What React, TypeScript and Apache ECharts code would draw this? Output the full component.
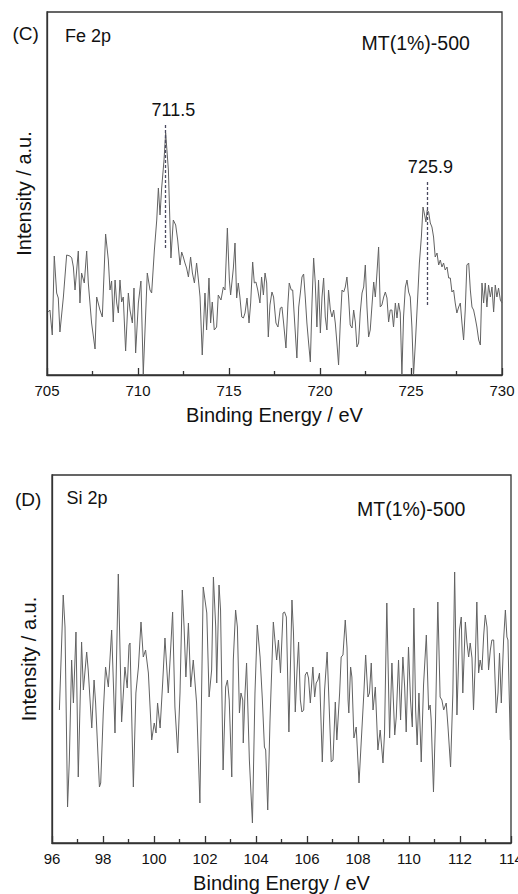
import React, { useEffect, useRef } from "react";
import * as echarts from "echarts";

const FONT = '"Liberation Sans", Arial, sans-serif';

// Panel C: Fe 2p
const feEnergy = [
  705.07, 705.16, 705.29, 705.40, 705.53, 705.62, 705.71, 705.90, 706.08, 706.26,
  706.36, 706.45, 706.54, 706.72, 706.81, 706.90, 707.05, 707.18, 707.27, 707.45,
  707.64, 707.73, 707.91, 708.04, 708.22, 708.37, 708.46, 708.55, 708.64, 708.74,
  708.83, 708.92, 709.01, 709.10, 709.19, 709.32, 709.47, 709.56, 709.69, 709.78,
  709.87, 710.02, 710.16, 710.29, 710.51, 710.66, 710.75, 710.90, 711.03, 711.12,
  711.21, 711.30, 711.43, 711.52, 711.67, 711.81, 711.94, 712.07, 712.18, 712.31,
  712.40, 712.49, 712.58, 712.67, 712.77, 712.89, 712.99, 713.10, 713.22, 713.32,
  713.41, 713.53, 713.68, 713.77, 713.90, 713.99, 714.08, 714.19, 714.32, 714.41,
  714.56, 714.69, 714.78, 714.91, 715.02, 715.09, 715.24, 715.33, 715.42, 715.51,
  715.60, 715.70, 715.79, 715.88, 715.99, 716.10, 716.19, 716.30, 716.39, 716.48,
  716.58, 716.70, 716.79, 716.89, 716.98, 717.07, 717.16, 717.25,
  717.36, 717.45, 717.58, 717.69, 717.82, 717.91, 718.00, 718.13, 718.24, 718.31,
  718.42, 718.50, 718.61, 718.73, 718.83, 718.92, 719.01, 719.10, 719.19, 719.28,
  719.37, 719.47, 719.56, 719.65, 719.74, 719.83, 719.92, 720.02, 720.11, 720.20,
  720.29, 720.38, 720.47, 720.57, 720.66, 720.75, 720.84, 720.93, 721.02, 721.11,
  721.21, 721.30, 721.39, 721.48, 721.57, 721.66, 721.76, 721.85, 721.94, 722.03,
  722.12, 722.21, 722.31, 722.40, 722.49, 722.58, 722.67, 722.76, 722.85, 722.95,
  723.04, 723.13, 723.22, 723.31, 723.40, 723.50, 723.59, 723.68, 723.77, 723.86,
  723.95, 724.04, 724.14, 724.23, 724.32, 724.41, 724.50, 724.59, 724.69, 724.78,
  724.87, 724.96, 725.05, 725.14, 725.24, 725.36, 725.46, 725.57, 725.66, 725.75,
  725.82, 725.89, 725.97, 726.06, 726.15, 726.24, 726.33, 726.43, 726.52, 726.61,
  726.70, 726.79, 726.88, 726.98, 727.07, 727.16, 727.25, 727.34, 727.43, 727.52,
  727.62, 727.71, 727.80, 727.89, 727.98, 728.07, 728.17, 728.26, 728.35, 728.44,
  728.53, 728.62, 728.72, 728.81, 728.90, 728.99, 729.08, 729.17, 729.26, 729.36,
  729.45, 729.54, 729.63, 729.72, 729.81, 729.91, 730.00,
];
const feIntensity = [
  63, 65, 40, 119, 82, 77, 43, 78, 120, 119,
  117, 108, 85, 124, 72, 102, 92, 124, 92, 52,
  26, 78, 65, 58, 141, 115, 85, 94, 53, 95,
  72, 62, 95, 73, 78, 24, 82, 65, 52, 87,
  22, 72, 94, 1, 102, 85, 82, 125, 155, 187,
  160, 187, 215, 242, 205, 117, 155, 150, 135, 110,
  123, 118, 112, 107, 98, 118, 102, 92, 112, 95,
  78, 20, 82, 45, 97, 52, 73, 45, 48, 80,
  75, 88, 85, 147, 95, 80, 107, 132, 77, 92,
  78, 58, 57, 62, 77, 52, 72, 113, 92, 93,
  85, 72, 98, 80, 102, 92, 38, 70,
  83, 78, 52, 48, 67, 68, 52, 27, 72, 92,
  85, 85, 52, 17, 68, 82, 98, 101, 78, 52,
  33, 13, 72, 117, 92, 48, 95, 42, 78, 97,
  58, 45, 85, 65, 58, 65, 52, 32, 10, 50,
  85, 83, 88, 98, 78, 50, 47, 65, 53, 28,
  32, 62, 82, 88, 110, 68, 38, 45, 68, 93,
  78, 102, 128, 68, 70, 78, 83, 77, 53, 65,
  65, 48, 72, 57, 72, 62, 0, 58, 88, 95,
  83, 78, 48, 0, 32, 75, 112, 138, 168, 160,
  153, 165, 163, 152, 148, 138, 118, 122, 110, 115,
  108, 112, 105, 108, 97, 97, 83, 85, 72, 62,
  68, 72, 52, 35, 65, 110, 112, 85, 68, 65,
  57, 48, 35, 30, 92, 72, 92, 68, 90, 78,
  88, 63, 90, 78, 87, 75, 72,
];
const fePeakEnergy = [711.5, 725.9];
const fePeakLineTop = [250, 193];
const fePeakLineBottom = [127, 70];

// Panel D: Si 2p
const siEnergy = [
  96.29, 96.44, 96.51, 96.61, 96.68, 96.77, 96.84, 96.94, 97.03, 97.16,
  97.23, 97.36, 97.42, 97.56, 97.65, 97.71, 97.86, 97.91, 98.01, 98.10,
  98.21, 98.34, 98.47, 98.60, 98.73, 98.86, 98.95, 99.02, 99.06, 99.19,
  99.29, 99.39, 99.49, 99.58, 99.67, 99.78, 99.91, 100.01, 100.08, 100.14,
  100.24, 100.34, 100.43, 100.56, 100.63, 100.73, 100.82, 100.93, 101.02, 101.11,
  101.18, 101.25, 101.35, 101.44, 101.54, 101.67, 101.80, 101.93, 102.07, 102.16,
  102.26, 102.33, 102.42, 102.46, 102.55, 102.61, 102.71, 102.81, 102.88, 102.95,
  103.05, 103.11, 103.20, 103.27, 103.35, 103.41, 103.48, 103.50, 103.57, 103.63,
  103.74, 103.86, 103.96, 104.05, 104.16, 104.25, 104.33, 104.38, 104.46, 104.55,
  104.68, 104.81, 104.88, 104.96, 105.06, 105.12, 105.19, 105.29, 105.41, 105.47,
  105.54, 105.61, 105.67, 105.74, 105.80, 105.87, 105.93, 106.00, 106.06, 106.13,
  106.23, 106.30, 106.36, 106.43, 106.49, 106.60, 106.69, 106.79, 106.86, 106.95,
  107.02, 107.11, 107.17, 107.28, 107.34, 107.41, 107.50, 107.57, 107.61, 107.64,
  107.71, 107.76, 107.84, 107.93, 108.04, 108.13, 108.23, 108.30, 108.39, 108.45,
  108.52, 108.59, 108.68, 108.78, 108.87, 108.98, 109.04, 109.13, 109.24, 109.33,
  109.44, 109.50, 109.59, 109.67, 109.76, 109.83, 109.89, 109.98, 110.06, 110.13,
  110.19, 110.26, 110.32, 110.39, 110.48, 110.57, 110.68, 110.77, 110.83, 110.87,
  110.96, 111.04, 111.13, 111.22, 111.29, 111.36, 111.46, 111.53, 111.63, 111.72,
  111.79, 111.88, 111.98, 112.05, 112.11, 112.21, 112.27, 112.34, 112.40, 112.47,
  112.53, 112.60, 112.66, 112.73, 112.79, 112.86, 112.93, 112.99, 113.06, 113.12,
  113.19, 113.25, 113.32, 113.42, 113.49, 113.55, 113.62, 113.71, 113.78, 113.84,
  113.88, 113.97,
];
const siIntensity = [
  133, 248, 216, 36, 83, 183, 140, 211, 66, 201,
  153, 191, 173, 115, 163, 140, 56, 60, 130, 176,
  156, 213, 110, 269, 121, 176, 155, 198, 200, 56,
  150, 176, 221, 186, 193, 170, 103, 120, 110, 140,
  115, 160, 205, 150, 183, 231, 136, 90, 150, 253,
  216, 166, 220, 156, 183, 140, 40, 256, 230, 146,
  173, 266, 216, 160, 258, 233, 73, 156, 163, 143,
  66, 183, 233, 216, 130, 150, 143, 100, 150, 180,
  83, 20, 150, 218, 186, 143, 96, 93, 33, 123,
  221, 183, 203, 170, 230, 231, 226, 111, 243, 210,
  131, 173, 201, 143, 131, 133, 168, 171, 165, 140,
  176, 146, 160, 163, 170, 81, 153, 191, 143, 81,
  83, 141, 103, 150, 186, 188, 223, 195, 143, 130,
  176, 166, 105, 116, 60, 103, 150, 188, 146, 150,
  180, 133, 156, 93, 113, 80, 110, 240, 105, 180,
  108, 126, 183, 123, 186, 156, 111, 196, 143, 116,
  235, 133, 98, 150, 81, 158, 208, 133, 138, 123,
  51, 123, 241, 146, 143, 133, 140, 116, 76, 150,
  271, 128, 213, 226, 150, 221, 201, 186, 200, 185,
  133, 183, 241, 170, 183, 173, 208, 228, 216, 173,
  193, 203, 203, 130, 150, 190, 140, 203, 233, 206,
  203, 103,
];

const xTicksC = { min: 705, max: 730, step: 5 };
const xTicksD = { min: 96, max: 114, step: 2 };

const AXIS_COLOR = "#333";
const TEXT_COLOR = "#111";
const LINE_COLOR = "#626262";

function makeXAxis(gridIndex: number, t: { min: number; max: number; step: number }, nameGap: number) {
  return {
    gridIndex,
    type: "value",
    min: t.min,
    max: t.max,
    interval: t.step,
    name: "Binding Energy / eV",
    nameLocation: "middle",
    nameGap,
    nameTextStyle: { fontSize: 20, color: TEXT_COLOR, fontFamily: FONT },
    axisLine: { show: true, lineStyle: { color: AXIS_COLOR, width: 1.3 } },
    axisTick: { show: true, inside: true, length: 7, lineStyle: { color: AXIS_COLOR, width: 1.3 } },
    minorTick: { show: true, splitNumber: 2, length: 4, lineStyle: { color: AXIS_COLOR, width: 1.3 } },
    axisLabel: { fontSize: 15, color: TEXT_COLOR, margin: 8, fontFamily: FONT },
    splitLine: { show: false },
    minorSplitLine: { show: false },
  };
}

function makeYAxis(gridIndex: number, max: number) {
  return {
    gridIndex,
    type: "value",
    min: 0,
    max,
    name: "Intensity / a.u.",
    nameLocation: "middle",
    nameGap: 13,
    nameTextStyle: { fontSize: 20, color: TEXT_COLOR, fontFamily: FONT },
    axisLine: { show: true, lineStyle: { color: AXIS_COLOR, width: 1.3 } },
    axisTick: { show: false },
    axisLabel: { show: false },
    splitLine: { show: false },
  };
}

function txt(text: string, x: number, y: number, size: number) {
  return {
    type: "text",
    x,
    y,
    silent: true,
    style: {
      text,
      fill: TEXT_COLOR,
      font: `${size}px ${FONT}`,
      align: "left",
      verticalAlign: "middle",
    },
  };
}

export default function App() {
  const ref = useRef<HTMLDivElement>(null);

  useEffect(() => {
    if (!ref.current) return;
    const chart = echarts.init(ref.current, undefined, { renderer: "svg" });

    const feData = feEnergy.map((e, i) => [e, feIntensity[i]]);
    const siData = siEnergy.map((e, i) => [e, siIntensity[i]]);

    const peakLines = fePeakEnergy.map((e, i) => [
      { coord: [e, fePeakLineTop[i]] },
      { coord: [e, fePeakLineBottom[i]] },
    ]);
    const labelOffsets = [[8, 0], [3, 0]];
    const peakLabels = fePeakEnergy.map((e, i) => ({
      coord: [e, fePeakLineTop[i]],
      value: e.toFixed(1),
      label: { offset: labelOffsets[i] },
    }));

    const option: any = {
      animation: false,
      backgroundColor: "#ffffff",
      textStyle: { fontFamily: FONT },
      grid: [
        { left: 47, top: 12, width: 455, height: 363, show: true, borderColor: AXIS_COLOR, borderWidth: 1.3, backgroundColor: "transparent", containLabel: false, outerBoundsMode: "none" },
        { left: 52, top: 475, width: 459, height: 368, show: true, borderColor: AXIS_COLOR, borderWidth: 1.3, backgroundColor: "transparent", containLabel: false, outerBoundsMode: "none" },
      ],
      xAxis: [makeXAxis(0, xTicksC, 30), makeXAxis(1, xTicksD, 30)],
      yAxis: [makeYAxis(0, 363), makeYAxis(1, 368)],
      series: [
        {
          type: "line",
          xAxisIndex: 0,
          yAxisIndex: 0,
          data: feData,
          showSymbol: false,
          symbol: "none",
          clip: true,
          lineStyle: { color: LINE_COLOR, width: 1 },
          silent: true,
          markLine: {
            silent: true,
            symbol: "none",
            label: { show: false },
            lineStyle: { type: [3, 2], color: "#4a4a60", width: 1.3 },
            data: peakLines,
          },
          markPoint: {
            silent: true,
            symbol: "circle",
            symbolSize: 0,
            label: {
              show: true,
              position: "top",
              distance: 6,
              fontSize: 18,
              color: TEXT_COLOR,
              fontFamily: FONT,
              formatter: (p: any) => p.value,
            },
            data: peakLabels,
          },
        },
        {
          type: "line",
          xAxisIndex: 1,
          yAxisIndex: 1,
          data: siData,
          showSymbol: false,
          symbol: "none",
          clip: true,
          lineStyle: { color: LINE_COLOR, width: 1 },
          silent: true,
        },
      ],
      graphic: [
        txt("(C)", 12.5, 33, 19),
        txt("Fe 2p", 65, 35.5, 18),
        txt("MT(1%)-500", 361.5, 42.5, 19.5),
        txt("(D)", 15, 499, 19),
        txt("Si 2p", 66.5, 498, 18),
        txt("MT(1%)-500", 357, 509, 19.5),
      ],
    };

    chart.setOption(option);
    return () => chart.dispose();
  }, []);

  return (
    <div
      ref={ref}
      style={{ position: "absolute", left: 0, top: 0, width: 518, height: 894, background: "#fff" }}
    />
  );
}
